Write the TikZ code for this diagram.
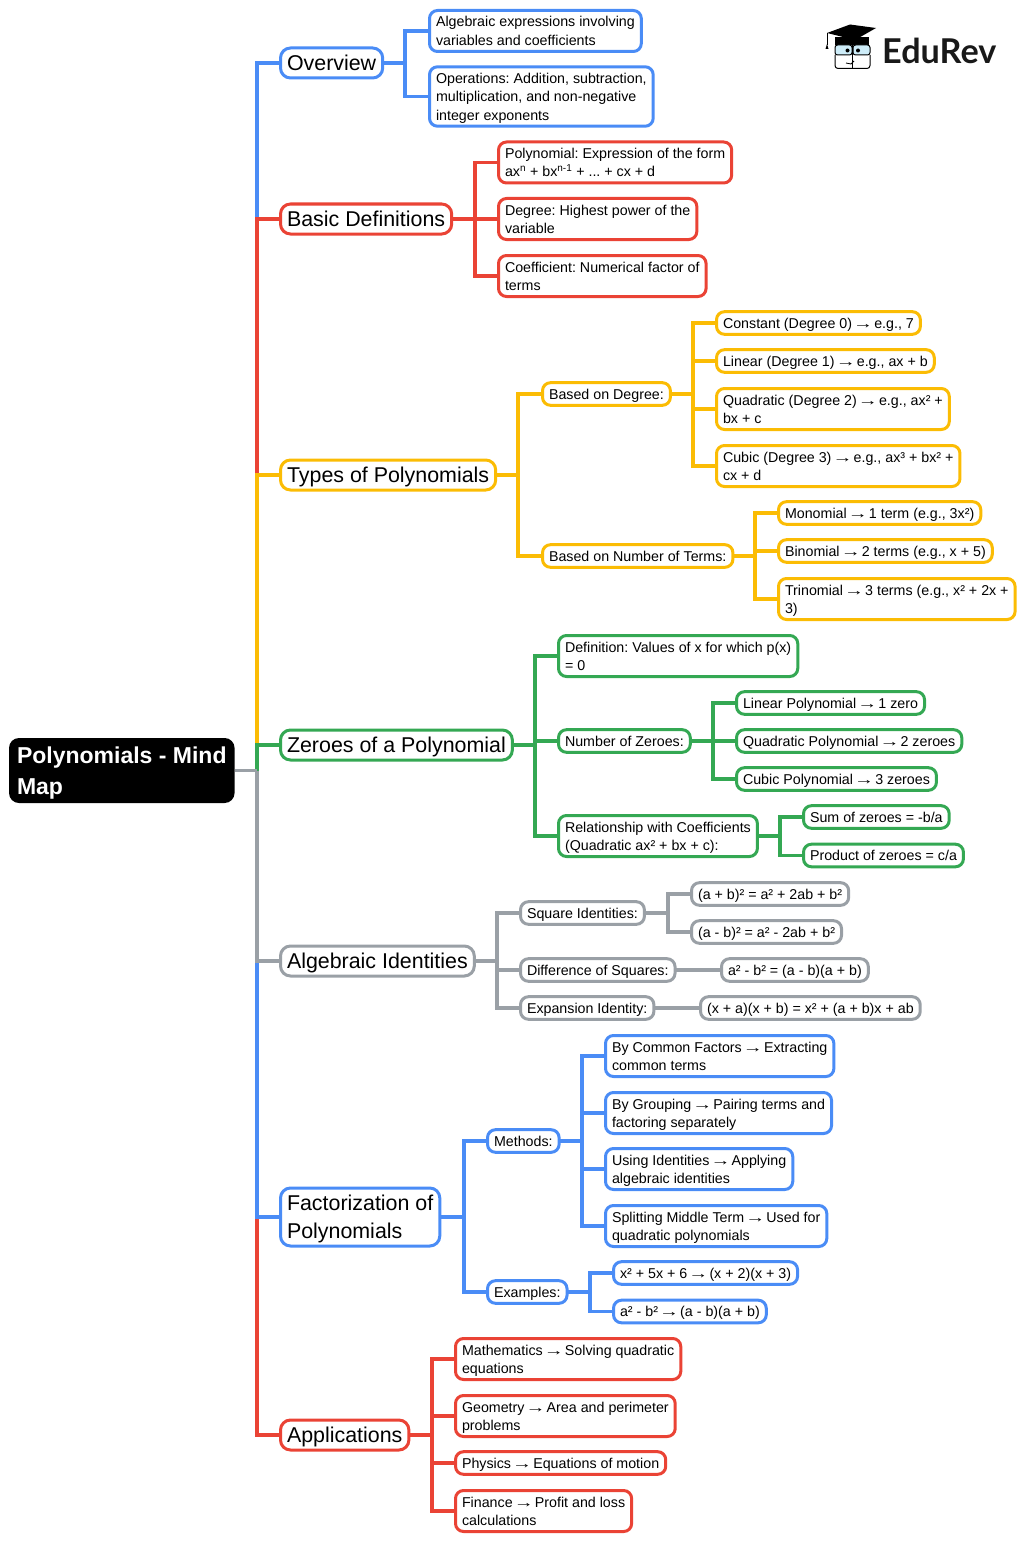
\documentclass[tikz,border=0pt]{standalone}
\usepackage{fontspec}
\setmainfont{Liberation Sans}
\newfontfamily\logofont{Lato}
\usetikzlibrary{positioning}
\usetikzlibrary{calc}

\definecolor{mapblue}{HTML}{4A8CF6}
\definecolor{mapred}{HTML}{EA4335}
\definecolor{mapyellow}{HTML}{FBBC04}
\definecolor{mapgreen}{HTML}{34A853}
\definecolor{mapgray}{HTML}{9AA0A6}

\newcommand{\leafstrut}{\rule[-4pt]{0pt}{18.4pt}}
\newcommand{\branchstrut}{\rule[-6.4pt]{0pt}{28pt}}
\newcommand{\rootstrut}{\rule[-7.4pt]{0pt}{31pt}}
\newcommand{\toarrow}{\makebox[1em]{\scalebox{1.4}[1]{→}}}
\frenchspacing

\tikzset{
  leaf/.style={draw=#1, line width=3pt, rounded corners=8pt, anchor=west, align=left, outer sep=0pt,
    inner xsep=6.5pt, inner ysep=2.1pt, fill=white, font=\fontsize{14.25}{18.4}\selectfont,
    execute at end node=\leafstrut},
  branch/.style={draw=#1, line width=3pt, rounded corners=10pt, anchor=west, align=left, outer sep=0pt,
    inner xsep=6.5pt, inner ysep=1pt, fill=white, font=\fontsize{21.4}{28}\selectfont,
    execute at end node=\branchstrut},
  link/.style={draw=#1, line width=3.5pt, line join=miter}
}

\begin{document}
\begin{tikzpicture}[x=1pt, y=-1pt]
  \useasboundingbox (0,0) rectangle (1024,1541);

  % Root
  \node[fill=black, text=white, rounded corners=10pt, anchor=west, align=left, outer sep=0pt, inner xsep=8pt, inner ysep=1.5pt,
    font=\fontsize{23}{31}\selectfont\bfseries, execute at end node=\rootstrut]
    (root) at (9,770.5) {\rootstrut Polynomials - Mind\\Map};
  \coordinate (trunk) at (257,770.5);

  % Branches
  \node[branch=mapblue] (overview) at (280.5,63) {Overview};
  \node[branch=mapred] (basics) at (280.5,219) {Basic Definitions};
  \node[branch=mapyellow] (types) at (280.5,475) {Types of Polynomials};
  \node[branch=mapgreen] (zeroes) at (280.5,745) {Zeroes of a Polynomial};
  \node[branch=mapgray] (identities) at (280.5,961) {Algebraic Identities};
  \node[branch=mapblue] (factor) at (280.5,1217) {\branchstrut Factorization of\\Polynomials};
  \node[branch=mapred] (apps) at (280.5,1435) {Applications};

  % Overview
  \node[leaf=mapblue] (expr) at (429.5,31) {\leafstrut Algebraic expressions involving\\variables and coefficients};
  \node[leaf=mapblue] (ops) at (429.5,96.5) {\leafstrut Operations: Addition, subtraction,\\multiplication, and non-negative\\integer exponents};

  % Basic definitions
  \node[leaf=mapred] (polydef) at (498.5,162.5) {\leafstrut Polynomial: Expression of the form\\ax\textsuperscript{n} + bx\textsuperscript{n-1} + ... + cx + d};
  \node[leaf=mapred] (degdef) at (498.5,219) {\leafstrut Degree: Highest power of the\\variable};
  \node[leaf=mapred] (coefdef) at (498.5,276) {\leafstrut Coefficient: Numerical factor of\\terms};

  % Types
  \node[leaf=mapyellow] (bydeg) at (542.5,394) {Based on Degree:};
  \node[leaf=mapyellow] (byterm) at (542.5,556) {Based on Number of Terms:};
  \node[leaf=mapyellow] (constant) at (716.5,323) {Constant (Degree 0) \toarrow{} e.g., 7};
  \node[leaf=mapyellow] (linear) at (716.5,361) {Linear (Degree 1) \toarrow{} e.g., ax + b};
  \node[leaf=mapyellow] (quad) at (716.5,409) {\leafstrut Quadratic (Degree 2) \toarrow{} e.g., ax² +\\bx + c};
  \node[leaf=mapyellow] (cubic) at (716.5,466) {\leafstrut Cubic (Degree 3) \toarrow{} e.g., ax³ + bx² +\\cx + d};
  \node[leaf=mapyellow] (mono) at (778.5,513) {Monomial \toarrow{} 1 term (e.g., 3x²)};
  \node[leaf=mapyellow] (bino) at (778.5,551) {Binomial \toarrow{} 2 terms (e.g., x + 5)};
  \node[leaf=mapyellow] (trino) at (778.5,599) {\leafstrut Trinomial \toarrow{} 3 terms (e.g., x² + 2x +\\3)};

  % Zeroes
  \node[leaf=mapgreen] (zerodef) at (558.5,656) {\leafstrut Definition: Values of x for which p(x)\\= 0};
  \node[leaf=mapgreen] (zerocount) at (558.5,741) {Number of Zeroes:};
  \node[leaf=mapgreen] (relation) at (558.5,836) {\leafstrut Relationship with Coefficients\\(Quadratic ax² + bx + c):};
  \node[leaf=mapgreen] (linzero) at (736.5,703) {Linear Polynomial \toarrow{} 1 zero};
  \node[leaf=mapgreen] (quadzero) at (736.5,741) {Quadratic Polynomial \toarrow{} 2 zeroes};
  \node[leaf=mapgreen] (cubzero) at (736.5,779) {Cubic Polynomial \toarrow{} 3 zeroes};
  \node[leaf=mapgreen] (sumzero) at (803.5,817) {Sum of zeroes = -b/a};
  \node[leaf=mapgreen] (prodzero) at (803.5,855.5) {Product of zeroes = c/a};

  % Identities
  \node[leaf=mapgray] (square) at (520.5,913) {Square Identities:};
  \node[leaf=mapgray] (diff) at (520.5,970) {Difference of Squares:};
  \node[leaf=mapgray] (expan) at (520.5,1008) {Expansion Identity:};
  \node[leaf=mapgray] (plus) at (691.5,894) {(a + b)² = a² + 2ab + b²};
  \node[leaf=mapgray] (minus) at (691.5,932) {(a - b)² = a² - 2ab + b²};
  \node[leaf=mapgray] (diffeq) at (721.5,970) {a² - b² = (a - b)(a + b)};
  \node[leaf=mapgray] (expaneq) at (700.5,1008) {(x + a)(x + b) = x² + (a + b)x + ab};

  % Factorization
  \node[leaf=mapblue] (methods) at (487.5,1141) {Methods:};
  \node[leaf=mapblue] (examples) at (487.5,1292) {Examples:};
  \node[leaf=mapblue] (common) at (605.5,1056) {\leafstrut By Common Factors \toarrow{} Extracting\\common terms};
  \node[leaf=mapblue] (group) at (605.5,1113) {\leafstrut By Grouping \toarrow{} Pairing terms and\\factoring separately};
  \node[leaf=mapblue] (useid) at (605.5,1169) {\leafstrut Using Identities \toarrow{} Applying\\algebraic identities};
  \node[leaf=mapblue] (split) at (605.5,1226) {\leafstrut Splitting Middle Term \toarrow{} Used for\\quadratic polynomials};
  \node[leaf=mapblue] (exone) at (613.5,1273) {x² + 5x + 6 \toarrow{} (x + 2)(x + 3)};
  \node[leaf=mapblue] (extwo) at (613.5,1311.5) {a² - b² \toarrow{} (a - b)(a + b)};

  % Applications
  \node[leaf=mapred] (maths) at (455.5,1359) {\leafstrut Mathematics \toarrow{} Solving quadratic\\equations};
  \node[leaf=mapred] (geom) at (455.5,1416) {\leafstrut Geometry \toarrow{} Area and perimeter\\problems};
  \node[leaf=mapred] (phys) at (455.5,1463) {Physics \toarrow{} Equations of motion};
  \node[leaf=mapred] (fin) at (455.5,1511) {\leafstrut Finance \toarrow{} Profit and loss\\calculations};

  % Trunk, later colours lie over earlier ones
  \draw[link=mapblue] (trunk) |- (overview.west);
  \draw[link=mapred] (trunk) |- (basics.west);
  \draw[link=mapyellow] (trunk) |- (types.west);
  \draw[link=mapgreen] (trunk) |- (zeroes.west);
  \draw[link=mapred] (trunk) |- (apps.west);
  \draw[link=mapblue] (trunk) |- (factor.west);
  \draw[link=mapgray] (trunk) |- (identities.west);
  \draw[link=mapgray] (root.east |- trunk) -- (trunk);

  % Bus lines of each group
  \foreach \from/\busx/\kids/\col in {
      overview/405/{expr,ops}/mapblue,
      basics/475/{polydef,degdef,coefdef}/mapred,
      types/518/{bydeg,byterm}/mapyellow,
      bydeg/693/{constant,linear,quad,cubic}/mapyellow,
      byterm/755/{mono,bino,trino}/mapyellow,
      zeroes/535/{zerodef,zerocount,relation}/mapgreen,
      zerocount/713/{linzero,quadzero,cubzero}/mapgreen,
      relation/780/{sumzero,prodzero}/mapgreen,
      identities/497/{square,diff,expan}/mapgray,
      square/668/{plus,minus}/mapgray,
      factor/464/{methods,examples}/mapblue,
      methods/582/{common,group,useid,split}/mapblue,
      examples/590/{exone,extwo}/mapblue,
      apps/432/{maths,geom,phys,fin}/mapred} {
    \coordinate (bus) at (\busx,0);
    \foreach \kid in \kids {
      \draw[link=\col] (\from.east) -- (\from.east -| bus) |- (\kid.west);
    }
  }
  \draw[link=mapgray] (diff) -- (diffeq);
  \draw[link=mapgray] (expan) -- (expaneq);

  % Logo
  \node[anchor=west, inner sep=0pt, font=\logofont\fontsize{34.2}{36}\selectfont\bfseries, text=black!90] (logo) at (882,51) {EduRev};
  \draw[black, line width=1pt] (827,33) -- (827,45);
  \fill[black] (827,44) -- (825.5,49) -- (828.5,49) -- cycle;
  \fill[black] (835,37) rectangle (869,45);
  \fill[black] (827,33) -- (850,24.5) -- (876,28) -- (855,40) -- cycle;
  \draw[black, line width=1pt, rounded corners=3pt] (835,55) -- (835,68.5) -- (870,68.5) -- (870,55);
  \draw[black, line width=1pt, fill=black!10!cyan!20!white, rounded corners=2.5pt] (835,45) rectangle (852,55);
  \draw[black, line width=1pt, fill=black!10!cyan!20!white, rounded corners=2.5pt] (853,45) rectangle (870,55);
  \draw[black, line width=1pt] (852.5,45) -- (852.5,68.5);
  \draw[black, line width=.8pt] (846,63) -- (851,64) -- (854,61);
  \fill[black] (847.5,50.5) circle (2pt);
  \fill[black] (858,50.5) circle (2pt);
\end{tikzpicture}
\end{document}
